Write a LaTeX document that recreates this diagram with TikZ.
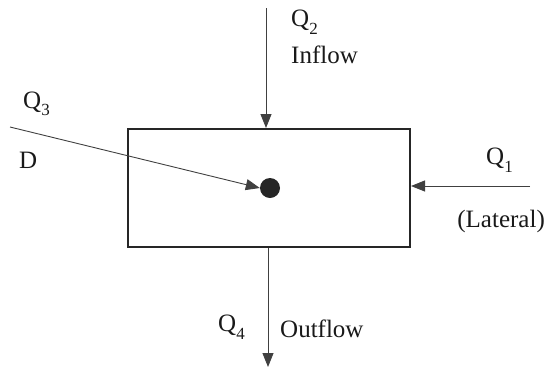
\documentclass[tikz,border=0pt]{standalone}
\usepackage{fontspec}
\setmainfont{Liberation Serif}
\usetikzlibrary{arrows.meta}
\newcommand{\Qsub}[1]{Q\raisebox{-0.3em}{\fontsize{17}{17}\selectfont #1}}
\begin{document}
\begin{tikzpicture}[x=1pt,y=-1pt,
  lbl/.style={font=\fontsize{25}{29}\selectfont, text=black!90, inner sep=0pt},
  flow/.style={draw=black!75, line width=0.9pt, -{Triangle[length=14pt,width=11pt]}},
  boxline/.style={draw=black!85, line width=2pt}]
\useasboundingbox (0,0) rectangle (547,368);
\node[boxline, minimum width=282pt, minimum height=118pt, inner sep=0pt] (box) at (269,188) {};
\node[circle, fill=black!85, minimum size=20pt, inner sep=0pt] (dot) at (270,188) {};
\coordinate (q2s) at (266,8);
\coordinate (q2e) at (266,128);
\coordinate (q4s) at (268,248);
\coordinate (q4e) at (268,367);
\coordinate (q1s) at (530,186);
\coordinate (q1e) at (411,186);
\coordinate (q3s) at (10,127);
\draw[flow] (q2s) -- (q2e);
\draw[flow] (q4s) -- (q4e);
\draw[flow] (q1s) -- (q1e);
\draw[flow] (q3s) -- (dot.west);
\node[lbl, anchor=west] (t2) at (291,22) {\Qsub{2}};
\node[lbl, anchor=west] (tin) at (291,55) {Inflow};
\node[lbl, anchor=west] (t3) at (23,104) {\Qsub{3}};
\node[lbl, anchor=west] (td) at (19,160) {D};
\node[lbl, anchor=west] (t1) at (486,160) {\Qsub{1}};
\node[lbl, anchor=east] (tlat) at (545,221) {(Lateral)};
\node[lbl, anchor=west] (t4) at (218,327) {\Qsub{4}};
\node[lbl, anchor=west] (tout) at (280,329) {Outflow};
\end{tikzpicture}
\end{document}
